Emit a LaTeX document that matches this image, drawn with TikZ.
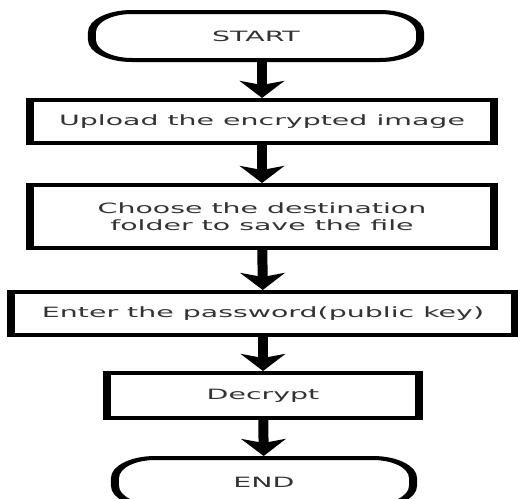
\documentclass[tikz,border=0pt]{standalone}
\usepackage{fontspec}
\setmainfont{DejaVu Sans}
\usetikzlibrary{arrows.meta}

\tikzset{
  term/.style={draw, line width=4pt, rounded corners=20pt, minimum height=48pt, inner sep=0pt, text=black!80},
  stepbox/.style={draw, line width=4pt, inner sep=0pt, align=center, text=black!80},
  flow/.style={line width=5pt, -{Stealth[length=17pt, width=22pt, inset=4pt]}}
}

\begin{document}
\begin{tikzpicture}[x=1pt, y=1pt, font=\fontsize{14.2}{17}\selectfont]
            \path[use as bounding box, fill=white] (-262,-498) rectangle (256,0);
            \begin{scope}[transform canvas={xscale=2}]
            \node[term, minimum width=164pt] (start) at (-3,-36) {START};
            \node[stepbox, minimum width=232pt, minimum height=43pt] (upload) at (0,-121.5) {Upload the encrypted image};
            \node[stepbox, minimum width=232pt, minimum height=63pt] (folder) at (0,-216.5) {Choose the destination\\folder to save the file};
            \node[stepbox, minimum width=252pt, minimum height=43pt] (passwd) at (0.5,-313.5) {Enter the password(public key)};
            \node[stepbox, minimum width=156pt, minimum height=45pt] (decrypt) at (0.5,-395.5) {Decrypt};
            \node[term, minimum width=149pt] (finish) at (1,-482) {END};
            \draw[flow] (start.south -| upload.north) -- (upload.north);
            \draw[flow] (upload) -- (folder);
            \draw[flow] (folder) -- (passwd);
            \draw[flow] (passwd) -- (decrypt);
            \draw[flow] (decrypt) -- (finish);
            \end{scope}
        \end{tikzpicture}
\end{document}
